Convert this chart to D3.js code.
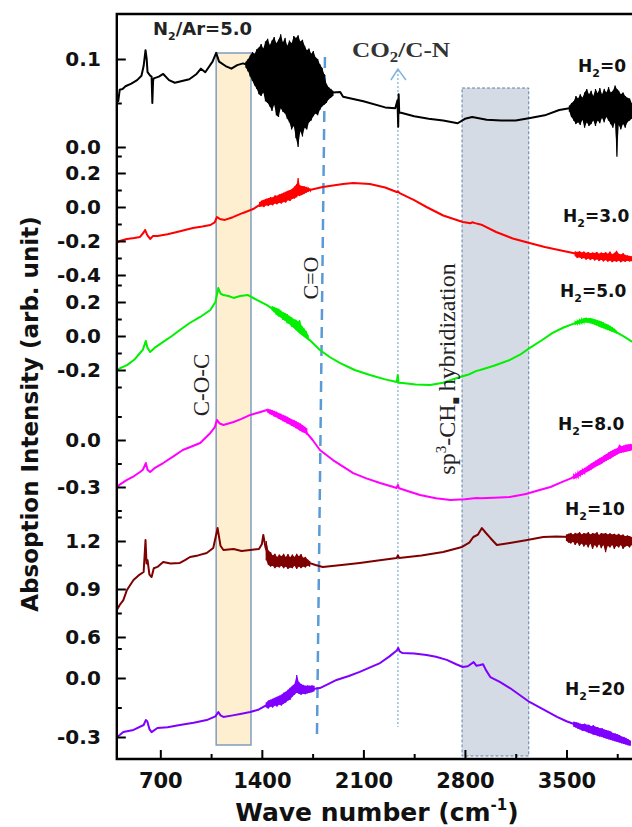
<!DOCTYPE html>
<html>
<head>
<meta charset="utf-8">
<script src="https://cdn.jsdelivr.net/npm/d3@7"></script>
<style>
  body { margin: 0; background: #fff; }
</style>
</head>
<body>
<svg id="chart"></svg>
<script>
// ---- data (wave number in cm-1, absorption in arb. unit) ----
var black = [[400,.059],[410,.052],[420,.065],[440,.066],[460,.069],[500,.072],[540,.076],[570,.081],[585,.092],[598,.110],[606,.100],[612,.085],[630,.081],[640,.080],[645,.050],[650,.075],[655,.078],[690,.080],[720,.083],[760,.076],[800,.073],[850,.075],[900,.077],[950,.083],[980,.089],[1010,.085],[1060,.097],[1085,.107],[1105,.097],[1150,.092],[1190,.089],[1230,.093],[1270,.095],[1290,.094],[1350,.090],[1450,.085],[1550,.080],[1650,.070],[1750,.068],[1850,.060],[1890,.062],[1940,.0625],[1960,.057],[2100,.052],[2250,.045],[2320,.044],[2335,.053],[2340,.023],[2343,.060],[2347,.039],[2360,.039],[2450,.035],[2550,.032],[2650,.030],[2750,.027],[2800,.032],[2850,.034],[2950,.031],[3050,.030],[3150,.030],[3250,.033],[3350,.036],[3450,.042],[3520,.044],[3700,.045],[3950,.042]];
var blackNoise1 = [[1290,.090,.097],[1305,.086,.100],[1320,.080,.104],[1335,.075,.108],[1350,.070,.106],[1365,.066,.111],[1380,.060,.113],[1395,.058,.117],[1410,.062,.112],[1425,.052,.120],[1440,.050,.123],[1455,.046,.116],[1470,.041,.121],[1485,.048,.125],[1500,.036,.118],[1515,.034,.122],[1530,.044,.128],[1545,.040,.119],[1560,.038,.124],[1575,.032,.115],[1590,.028,.121],[1605,.020,.118],[1620,.024,.126],[1635,.010,.124],[1650,.000,.127],[1665,.018,.120],[1680,.012,.122],[1695,.022,.115],[1710,.020,.110],[1725,.028,.112],[1740,.030,.106],[1755,.035,.109],[1770,.038,.102],[1785,.036,.100],[1800,.042,.094],[1815,.046,.090],[1830,.048,.083],[1845,.050,.072],[1860,.054,.068],[1875,.056,.066],[1890,.058,.064]];
var blackNoise2 = [[3520,.040,.047],[3535,.034,.050],[3550,.030,.052],[3565,.026,.058],[3580,.028,.055],[3595,.025,.060],[3610,.031,.056],[3625,.022,.062],[3640,.028,.066],[3655,.024,.060],[3670,.026,.064],[3685,.030,.058],[3700,.024,.066],[3715,.030,.061],[3730,.027,.067],[3745,.033,.060],[3760,.028,.066],[3775,.034,.062],[3790,.030,.068],[3805,.026,.062],[3820,.022,.064],[3835,.028,.070],[3848,-.011,.066],[3860,.025,.064],[3875,.020,.060],[3890,.026,.062],[3905,.022,.058],[3920,.028,.056],[3935,.030,.055],[3950,.032,.050]];

var red = [[400,-.212],[420,-.200],[470,-.188],[520,-.182],[560,-.176],[585,-.150],[595,-.135],[610,-.165],[630,-.188],[650,-.170],[680,-.171],[750,-.160],[815,-.147],[870,-.135],[925,-.124],[990,-.115],[1045,-.106],[1075,-.090],[1090,-.059],[1110,-.070],[1145,-.076],[1200,-.060],[1270,-.035],[1340,-.012],[1385,.012],[1450,.030],[1520,.045],[1600,.070],[1680,.095],[1730,.100],[1820,.118],[1960,.135],[2030,.141],[2145,.135],[2250,.115],[2330,.088],[2338,.092],[2350,.082],[2450,.040],[2535,.000],[2650,-.050],[2785,-.088],[2840,-.095],[2850,-.090],[2870,-.095],[2920,-.106],[3015,-.147],[3130,-.185],[3245,-.212],[3350,-.235],[3455,-.255],[3570,-.275],[3700,-.290],[3950,-.300]];
var redNoise1 = [[1385,.000,.030],[1400,.004,.038],[1415,.000,.042],[1430,.010,.048],[1445,.006,.052],[1460,.015,.058],[1475,.010,.056],[1490,.020,.068],[1505,.016,.066],[1520,.025,.074],[1535,.020,.078],[1550,.030,.084],[1565,.026,.090],[1580,.040,.096],[1595,.036,.100],[1610,.048,.108],[1625,.050,.120],[1640,.058,.135],[1650,.068,.170],[1660,.064,.128],[1675,.070,.124],[1690,.076,.122],[1705,.084,.118],[1720,.090,.112],[1735,.095,.108]];
var redNoise2 = [[3560,-.290,-.262],[3575,-.300,-.265],[3590,-.295,-.260],[3605,-.305,-.268],[3620,-.300,-.262],[3635,-.310,-.270],[3650,-.303,-.265],[3665,-.312,-.272],[3680,-.305,-.268],[3695,-.315,-.270],[3710,-.308,-.265],[3725,-.318,-.275],[3740,-.310,-.268],[3755,-.320,-.272],[3770,-.312,-.266],[3785,-.322,-.275],[3800,-.315,-.262],[3815,-.325,-.278],[3830,-.318,-.270],[3845,-.322,-.258],[3860,-.316,-.275],[3875,-.325,-.280],[3890,-.318,-.272],[3905,-.322,-.282],[3920,-.316,-.285],[3935,-.320,-.288],[3950,-.318,-.290]];

var green = [[400,-.200],[420,-.190],[470,-.171],[520,-.140],[560,-.100],[580,-.080],[600,-.029],[612,-.070],[630,-.094],[660,-.070],[720,-.035],[780,.000],[835,.035],[900,.075],[975,.112],[1045,.153],[1080,.200],[1100,.282],[1115,.250],[1135,.241],[1170,.235],[1205,.224],[1250,.235],[1305,.241],[1365,.212],[1435,.182],[1490,.150],[1545,.112],[1600,.070],[1665,.018],[1730,-.024],[1800,-.082],[1870,-.125],[1940,-.159],[2040,-.200],[2145,-.229],[2250,-.255],[2330,-.271],[2337,-.229],[2342,-.275],[2370,-.276],[2460,-.285],[2560,-.288],[2650,-.275],[2745,-.247],[2830,-.225],[2880,-.205],[2905,-.200],[3000,-.175],[3110,-.141],[3180,-.110],[3245,-.071],[3330,-.025],[3405,.018],[3480,.050],[3560,.076],[3630,.094],[3690,.090],[3735,.076],[3790,.050],[3840,.024],[3900,-.005],[3955,-.035]];
var greenNoise1 = [[1470,.150,.175],[1485,.140,.170],[1500,.125,.165],[1515,.115,.160],[1530,.110,.150],[1545,.095,.140],[1560,.090,.135],[1575,.075,.128],[1590,.070,.118],[1605,.055,.110],[1620,.050,.100],[1635,.035,.095],[1650,.030,.085],[1660,.020,.094],[1675,.010,.060],[1690,.000,.045],[1705,-.010,.030],[1720,-.020,.005]];
var greenNoise2 = [[3560,.065,.085],[3575,.070,.090],[3590,.072,.095],[3605,.075,.100],[3620,.078,.104],[3635,.080,.108],[3650,.078,.105],[3665,.075,.106],[3680,.070,.102],[3695,.066,.098],[3710,.062,.094],[3725,.055,.090],[3740,.050,.085],[3755,.045,.080],[3770,.040,.072],[3785,.035,.068],[3800,.030,.060],[3815,.025,.052],[3830,.020,.042],[3845,.015,.032]];

var magenta = [[400,-.300],[420,-.285],[470,-.255],[520,-.230],[560,-.204],[580,-.190],[600,-.147],[612,-.190],[630,-.204],[660,-.180],[720,-.147],[790,-.105],[855,-.064],[920,-.040],[975,-.019],[1045,.045],[1075,.080],[1090,.128],[1110,.105],[1135,.096],[1205,.115],[1260,.135],[1320,.160],[1390,.179],[1435,.191],[1480,.170],[1525,.147],[1600,.110],[1665,.064],[1700,.055],[1750,.000],[1800,-.064],[1890,-.128],[1960,-.170],[2030,-.211],[2120,-.245],[2215,-.274],[2330,-.306],[2338,-.287],[2346,-.308],[2420,-.330],[2490,-.351],[2600,-.372],[2700,-.383],[2800,-.378],[2880,-.370],[2905,-.372],[3000,-.368],[3110,-.364],[3220,-.345],[3315,-.319],[3390,-.300],[3455,-.274],[3530,-.245],[3595,-.211],[3665,-.178],[3735,-.140],[3800,-.100],[3870,-.064],[3955,-.045]];
var magentaNoise1 = [[1440,.175,.200],[1455,.165,.195],[1470,.160,.192],[1485,.150,.185],[1500,.145,.180],[1515,.135,.172],[1530,.130,.168],[1545,.120,.160],[1560,.115,.155],[1575,.105,.148],[1590,.100,.140],[1605,.090,.132],[1620,.085,.128],[1635,.075,.120],[1650,.070,.112],[1665,.060,.105],[1680,.050,.095],[1695,.045,.085],[1710,.035,.075]];
var magentaNoise2 = [[3550,-.250,-.222],[3565,-.242,-.215],[3580,-.238,-.205],[3595,-.228,-.195],[3610,-.222,-.188],[3625,-.212,-.178],[3640,-.205,-.170],[3655,-.198,-.160],[3670,-.190,-.150],[3685,-.180,-.142],[3700,-.172,-.132],[3715,-.165,-.125],[3730,-.158,-.115],[3745,-.150,-.108],[3760,-.140,-.098],[3775,-.132,-.090],[3790,-.125,-.080],[3805,-.118,-.072],[3820,-.108,-.064],[3835,-.100,-.058],[3850,-.092,-.052],[3865,-.085,-.030],[3880,-.082,-.040],[3895,-.078,-.035],[3910,-.075,-.030],[3925,-.072,-.028],[3940,-.068,-.025],[3955,-.065,-.028]];

var brown = [[400,.769],[420,.800],[445,.831],[470,.894],[515,.956],[550,.985],[585,1.006],[598,1.206],[605,1.060],[612,1.080],[625,.990],[640,.975],[655,1.030],[680,1.038],[720,1.069],[770,1.060],[835,1.063],[870,1.080],[905,1.100],[960,1.110],[1020,1.125],[1065,1.156],[1095,1.281],[1115,1.170],[1135,1.144],[1205,1.150],[1260,1.138],[1320,1.144],[1380,1.150],[1400,1.180],[1410,1.238],[1425,1.160],[1450,1.100],[1505,1.081],[1600,1.075],[1665,1.081],[1720,1.065],[1770,1.050],[1820,1.038],[1950,1.050],[2075,1.063],[2200,1.078],[2330,1.094],[2338,1.110],[2346,1.094],[2500,1.110],[2650,1.131],[2780,1.163],[2830,1.190],[2858,1.225],[2890,1.240],[2917,1.281],[2945,1.250],[2975,1.219],[3020,1.175],[3110,1.188],[3220,1.205],[3340,1.225],[3430,1.228],[3525,1.225],[3685,1.206],[3800,1.205],[3950,1.200]];
var brownNoise1 = [[1430,1.080,1.200],[1445,1.050,1.140],[1460,1.040,1.130],[1475,1.045,1.110],[1490,1.030,1.120],[1505,1.040,1.100],[1520,1.035,1.115],[1535,1.045,1.105],[1550,1.030,1.120],[1565,1.040,1.100],[1580,1.025,1.118],[1595,1.035,1.098],[1610,1.030,1.115],[1625,1.045,1.100],[1640,1.025,1.120],[1655,1.040,1.105],[1670,1.030,1.118],[1685,1.040,1.095],[1700,1.035,1.100],[1715,1.045,1.085],[1730,1.040,1.075]];
var brownNoise2 = [[3500,1.200,1.240],[3515,1.190,1.245],[3530,1.185,1.250],[3545,1.195,1.240],[3560,1.175,1.250],[3575,1.190,1.245],[3590,1.170,1.255],[3605,1.185,1.240],[3620,1.165,1.250],[3635,1.180,1.245],[3650,1.160,1.255],[3665,1.185,1.240],[3680,1.150,1.250],[3695,1.175,1.245],[3710,1.160,1.255],[3725,1.180,1.238],[3740,1.155,1.250],[3755,1.175,1.245],[3770,1.130,1.250],[3785,1.170,1.240],[3800,1.160,1.248],[3815,1.175,1.240],[3830,1.150,1.245],[3845,1.170,1.238],[3860,1.160,1.245],[3875,1.175,1.235],[3890,1.150,1.240],[3905,1.165,1.230],[3920,1.170,1.235],[3935,1.160,1.230],[3950,1.175,1.225]];

var purple = [[400,-.300],[420,-.290],[445,-.275],[515,-.264],[585,-.239],[600,-.214],[610,-.220],[625,-.260],[640,-.275],[680,-.254],[750,-.250],[835,-.239],[930,-.228],[1020,-.214],[1080,-.195],[1100,-.173],[1115,-.190],[1135,-.198],[1200,-.190],[1260,-.182],[1320,-.173],[1380,-.160],[1435,-.137],[1545,-.127],[1600,-.080],[1640,-.025],[1665,-.050],[1710,-.061],[1800,-.051],[1860,-.030],[1915,-.010],[2000,.010],[2075,.031],[2150,.055],[2215,.076],[2280,.110],[2330,.140],[2340,.153],[2350,.135],[2370,.127],[2450,.125],[2535,.117],[2600,.108],[2675,.092],[2740,.070],[2785,.056],[2820,.060],[2860,.081],[2880,.062],[2905,.066],[2925,.070],[2945,.040],[2975,.005],[3040,-.020],[3110,-.051],[3180,-.088],[3245,-.122],[3340,-.160],[3435,-.198],[3500,-.220],[3570,-.239],[3700,-.265],[3800,-.290],[3880,-.310],[3940,-.330]];
var purpleNoise1 = [[1430,-.150,-.125],[1445,-.155,-.115],[1460,-.145,-.110],[1475,-.150,-.105],[1490,-.140,-.100],[1505,-.145,-.095],[1520,-.135,-.090],[1535,-.140,-.085],[1550,-.130,-.075],[1565,-.125,-.070],[1580,-.115,-.060],[1595,-.110,-.050],[1610,-.095,-.040],[1625,-.085,-.030],[1640,-.075,.015],[1655,-.080,-.020],[1670,-.085,-.030],[1685,-.080,-.035],[1700,-.082,-.040],[1715,-.078,-.038],[1730,-.075,-.040],[1745,-.072,-.038],[1760,-.068,-.040]];
var purpleNoise2 = [[3550,-.248,-.222],[3565,-.252,-.225],[3580,-.258,-.228],[3595,-.262,-.232],[3610,-.268,-.235],[3625,-.270,-.232],[3640,-.275,-.238],[3655,-.280,-.238],[3670,-.282,-.245],[3685,-.288,-.240],[3700,-.290,-.248],[3715,-.295,-.250],[3730,-.298,-.255],[3745,-.300,-.255],[3760,-.305,-.262],[3775,-.308,-.265],[3790,-.312,-.268],[3805,-.315,-.272],[3820,-.318,-.280],[3835,-.322,-.282],[3850,-.325,-.286],[3865,-.328,-.290],[3880,-.332,-.298],[3895,-.335,-.300],[3910,-.338,-.305],[3925,-.342,-.312],[3940,-.345,-.318]];

var xTicks = [700, 1400, 2100, 2800, 3500];
var xMinor = [1050, 1750, 2450, 3150, 3850];
var cocBand = [1085, 1325];      // C-O-C
var sp3Band = [2780, 3240];      // sp3-CHx hybridization
var coWave = [1835, 1780];       // C=O dashed line (top, bottom)
var co2Wave = 2338;              // CO2/C-N

var dimensions = {
    width: 632,
    height: 827,
    left: 116.8,
    right: 639,
    top: 14,
    bottom: 759
}

// each stacked spectrum has its own y axis segment
var panels = [
    {label: "=0",   color: "#000000", data: black,   noise: [blackNoise1, blackNoise2],     domain: [0, 0.1],    range: [147, 59],  major: [0, 0.1],            minor: [0.05],                 lx: 578, ly: 72},
    {label: "=3.0", color: "#ff0000", data: red,     noise: [redNoise1, redNoise2],         domain: [-0.4, 0.2], range: [275, 173], major: [0.2, 0, -0.2, -0.4], minor: [0.3, 0.1, -0.1, -0.3], lx: 563, ly: 222},
    {label: "=5.0", color: "#00f000", data: green,   noise: [greenNoise1, greenNoise2],     domain: [-0.2, 0.2], range: [370, 302], major: [0.2, 0, -0.2],      minor: [0.3, 0.1, -0.1, -0.3], lx: 560, ly: 297},
    {label: "=8.0", color: "#ff00ff", data: magenta, noise: [magentaNoise1, magentaNoise2], domain: [-0.3, 0],   range: [487, 440], major: [0, -0.3],           minor: [0.15, -0.15, -0.45],  lx: 558, ly: 430},
    {label: "=10",  color: "#7f0000", data: brown,   noise: [brownNoise1, brownNoise2],     domain: [0.6, 1.2],  range: [637, 541], major: [1.2, 0.9, 0.6],     minor: [1.35, 1.05, 0.75],    lx: 565, ly: 515},
    {label: "=20",  color: "#7f00ff", data: purple,  noise: [purpleNoise1, purpleNoise2],   domain: [-0.3, 0],   range: [737, 678], major: [0, -0.3],           minor: [0.15, -0.15],         lx: 565, ly: 695}
]

var svg = d3.select("#chart")
            .attr("width", dimensions.width)
            .attr("height", dimensions.height)
            .style("font-family", "'DejaVu Sans', sans-serif")

svg.append("rect").attr("width", dimensions.width).attr("height", dimensions.height).attr("fill", "#fff")

svg.append("clipPath").attr("id", "plotClip")
   .append("rect")
   .attr("x", dimensions.left).attr("y", dimensions.top)
   .attr("width", dimensions.right - dimensions.left)
   .attr("height", dimensions.bottom - dimensions.top)

var xScale = d3.scaleLinear()
               .domain([400, 4000])
               .range([dimensions.left, dimensions.right])

var plot = svg.append("g").attr("clip-path", "url(#plotClip)")

// shaded regions
plot.append("rect")
    .attr("x", xScale(cocBand[0]))
    .attr("y", 53)
    .attr("width", xScale(cocBand[1]) - xScale(cocBand[0]))
    .attr("height", 745 - 53)
    .attr("fill", "#fdefd0")
    .attr("stroke", "#7f9dbd")
    .attr("stroke-width", 1.5)

plot.append("rect")
    .attr("x", xScale(sp3Band[0]))
    .attr("y", 88)
    .attr("width", xScale(sp3Band[1]) - xScale(sp3Band[0]))
    .attr("height", 756 - 88)
    .attr("fill", "#d5dbe4")
    .attr("stroke", "#5d82aa")
    .attr("stroke-width", 1)
    .attr("stroke-dasharray", "3,2")

// C=O dashed marker
plot.append("line")
    .attr("x1", xScale(coWave[0])).attr("y1", 57)
    .attr("x2", xScale(coWave[1])).attr("y2", 735)
    .attr("stroke", "#5b9bd5")
    .attr("stroke-width", 2.5)
    .attr("stroke-dasharray", "11,7")

// CO2/C-N dotted marker with open arrow
plot.append("line")
    .attr("x1", xScale(co2Wave)).attr("y1", 70)
    .attr("x2", xScale(co2Wave)).attr("y2", 727)
    .attr("stroke", "#5b9bd5")
    .attr("stroke-width", 1)
    .attr("stroke-dasharray", "2,2")
plot.append("path")
    .attr("d", `M${xScale(co2Wave) - 7},80 L${xScale(co2Wave)},69 L${xScale(co2Wave) + 8},80`)
    .attr("fill", "none")
    .attr("stroke", "#7fb3e3")
    .attr("stroke-width", 1.5)

var fmt = d => d3.format(".1f")(d).replace("\u2212", "-")

panels.forEach(function(p){
    var yScale = d3.scaleLinear().domain(p.domain).range(p.range)

    var lineGen = d3.line()
                    .x(d => xScale(d[0]))
                    .y(d => yScale(d[1]))

    var bandGen = d3.area()
                    .x(d => xScale(d[0]))
                    .y0(d => yScale(d[1]))
                    .y1(d => yScale(d[2]))

    plot.append("path")
        .datum(p.data)
        .attr("d", lineGen)
        .attr("fill", "none")
        .attr("stroke", p.color)
        .attr("stroke-width", 2)
        .attr("stroke-linejoin", "round")

    // noisy stretches: each reading spans its low..high excursion
    p.noise.forEach(function(n){
        plot.append("path")
            .datum(n)
            .attr("d", bandGen)
            .attr("fill", p.color)
        plot.append("path")
            .datum(n.flatMap(d => [[d[0], d[1]], [d[0], d[2]]]))
            .attr("d", lineGen)
            .attr("fill", "none")
            .attr("stroke", p.color)
            .attr("stroke-width", 1.2)
    })

    var majorAxis = svg.append("g")
                       .attr("transform", `translate(${dimensions.left},0)`)
                       .call(d3.axisLeft(yScale).tickValues(p.major).tickSize(-9).tickPadding(16).tickFormat(fmt))
    majorAxis.select(".domain").remove()
    majorAxis.selectAll("line").attr("stroke-width", 2)
    majorAxis.selectAll("text")
             .attr("font-family", "'DejaVu Sans', sans-serif")
             .attr("font-weight", "bold")
             .attr("font-size", 20)
             .attr("fill", "#111")

    var minorAxis = svg.append("g")
                       .attr("transform", `translate(${dimensions.left},0)`)
                       .call(d3.axisLeft(yScale).tickValues(p.minor).tickSize(-5).tickFormat(""))
    minorAxis.select(".domain").remove()
    minorAxis.selectAll("line").attr("stroke-width", 2)

    var lab = svg.append("text")
                 .attr("x", p.lx)
                 .attr("y", p.ly)
                 .attr("font-weight", "bold")
                 .attr("font-size", 17)
                 .attr("fill", "#111")
    lab.append("tspan").text("H")
    lab.append("tspan").attr("font-size", 11).attr("dy", 5).text("2")
    lab.append("tspan").attr("dy", -5).text(p.label)
})

// x axis
var xAxis = svg.append("g")
               .attr("transform", `translate(0,${dimensions.bottom})`)
               .call(d3.axisBottom(xScale).tickValues(xTicks).tickSize(-9).tickPadding(14).tickFormat(d3.format("d")))
xAxis.select(".domain").remove()
xAxis.selectAll("line").attr("stroke-width", 2)
xAxis.selectAll("text")
     .attr("font-family", "'DejaVu Sans', sans-serif")
     .attr("font-weight", "bold")
     .attr("font-size", 21)
     .attr("fill", "#111")
var xMinorAxis = svg.append("g")
                    .attr("transform", `translate(0,${dimensions.bottom})`)
                    .call(d3.axisBottom(xScale).tickValues(xMinor).tickSize(-5).tickFormat(""))
xMinorAxis.select(".domain").remove()
xMinorAxis.selectAll("line").attr("stroke-width", 2)

// frame
svg.append("path")
   .attr("d", `M${dimensions.left},${dimensions.bottom} V${dimensions.top} H${dimensions.right} V${dimensions.bottom} Z`)
   .attr("fill", "none")
   .attr("stroke", "#000")
   .attr("stroke-width", 2.4)

// titles
var xTitle = svg.append("text")
                .attr("x", 377)
                .attr("y", 821)
                .attr("text-anchor", "middle")
                .attr("font-weight", "bold")
                .attr("font-size", 25)
                .attr("fill", "#111")
xTitle.append("tspan").text("Wave number (cm")
xTitle.append("tspan").attr("font-size", 15).attr("dy", -11).text("-1")
xTitle.append("tspan").attr("dy", 11).text(")")

svg.append("text")
   .attr("transform", "translate(38,414) rotate(-90)")
   .attr("text-anchor", "middle")
   .attr("font-weight", "bold")
   .attr("font-size", 23)
   .attr("fill", "#111")
   .text("Absoption Intensity (arb. unit)")

var ratio = svg.append("text")
               .attr("x", 153)
               .attr("y", 35)
               .attr("font-weight", "bold")
               .attr("font-size", 18)
               .attr("fill", "#222")
ratio.append("tspan").text("N")
ratio.append("tspan").attr("font-size", 11).attr("dy", 5).text("2")
ratio.append("tspan").attr("dy", -5).text("/Ar=5.0")

// band annotations (serif)
var co2Label = svg.append("text")
                  .attr("transform", "translate(352,57) scale(1.2,1)")
                  .attr("font-family", "'Liberation Serif', serif")
                  .attr("font-weight", "bold")
                  .attr("font-size", 21)
                  .attr("fill", "#333")
co2Label.append("tspan").text("CO")
co2Label.append("tspan").attr("font-size", 14).attr("dy", 5).text("2")
co2Label.append("tspan").attr("dy", -5).text("/C-N")

svg.append("text")
   .attr("transform", "translate(201,385) rotate(-90)")
   .attr("text-anchor", "middle")
   .attr("dominant-baseline", "central")
   .attr("font-family", "'Liberation Serif', serif")
   .attr("font-size", 23)
   .attr("fill", "#222")
   .text("C-O-C")

svg.append("text")
   .attr("transform", "translate(310,278) rotate(-90)")
   .attr("text-anchor", "middle")
   .attr("dominant-baseline", "central")
   .attr("font-family", "'Liberation Serif', serif")
   .attr("font-size", 22)
   .attr("fill", "#222")
   .text("C=O")

var sp3 = svg.append("text")
             .attr("transform", "translate(455,369) rotate(-90)")
             .attr("text-anchor", "middle")
             .attr("font-family", "'Liberation Serif', serif")
             .attr("font-size", 24)
             .attr("fill", "#222")
sp3.append("tspan").text("sp")
sp3.append("tspan").attr("font-size", 15).attr("dy", -9).text("3")
sp3.append("tspan").attr("dy", 9).text("-CH")
sp3.append("tspan").attr("font-size", 12).attr("dy", 5).text("\u25A0")
sp3.append("tspan").attr("dy", -5).text(" hybridization")
</script>
</body>
</html>
